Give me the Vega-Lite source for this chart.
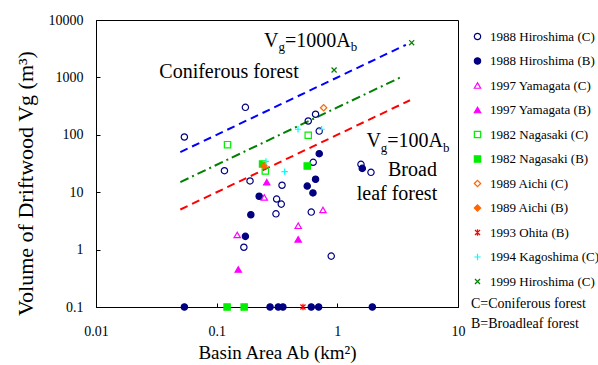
{
  "$schema": "https://vega.github.io/schema/vega-lite/v6.json",
  "width": 362,
  "height": 287,
  "autosize": {"type": "none"},
  "padding": {"left": 96, "top": 20, "right": 140, "bottom": 58},
  "background": "white",
  "config": {
    "font": "Liberation Serif",
    "view": {"stroke": "black", "strokeWidth": 1},
    "axis": {
      "grid": false,
      "domainColor": "black",
      "tickColor": "black",
      "tickSize": -4,
      "labelColor": "black",
      "titleColor": "black",
      "labelFont": "Liberation Serif",
      "titleFont": "Liberation Serif",
      "labelFontSize": 14,
      "titleFontWeight": "normal",
      "labelFlush": false,
      "labelOverlap": false
    },
    "legend": {
      "orient": "none",
      "legendX": 375,
      "legendY": 10,
      "padding": 0,
      "labelFont": "Liberation Serif",
      "labelFontSize": 13,
      "labelColor": "black",
      "labelLimit": 200,
      "labelOffset": 6,
      "symbolSize": 40,
      "symbolStrokeWidth": 1.2,
      "rowPadding": 10.5,
      "titleOrient": "bottom",
      "titleFont": "Liberation Serif",
      "titleFontSize": 14,
      "titleFontWeight": "normal",
      "titleColor": "black",
      "titleLineHeight": 20,
      "titlePadding": 8,
      "titleAnchor": "start",
      "titleLimit": 200
    }
  },
  "datasets": {
    "points": [
      {"series": "1988 Hiroshima (C)", "x": 0.054, "y": 91.6},
      {"series": "1988 Hiroshima (C)", "x": 0.173, "y": 301},
      {"series": "1988 Hiroshima (C)", "x": 0.66, "y": 228},
      {"series": "1988 Hiroshima (C)", "x": 0.574, "y": 174},
      {"series": "1988 Hiroshima (C)", "x": 0.708, "y": 116},
      {"series": "1988 Hiroshima (C)", "x": 0.116, "y": 23.7},
      {"series": "1988 Hiroshima (C)", "x": 0.631, "y": 33.2},
      {"series": "1988 Hiroshima (C)", "x": 1.57, "y": 30.6},
      {"series": "1988 Hiroshima (C)", "x": 1.9, "y": 22.2},
      {"series": "1988 Hiroshima (C)", "x": 0.189, "y": 15.7},
      {"series": "1988 Hiroshima (C)", "x": 0.348, "y": 13.2},
      {"series": "1988 Hiroshima (C)", "x": 0.314, "y": 7.6},
      {"series": "1988 Hiroshima (C)", "x": 0.343, "y": 6.2},
      {"series": "1988 Hiroshima (C)", "x": 0.31, "y": 4.2},
      {"series": "1988 Hiroshima (C)", "x": 0.608, "y": 4.5},
      {"series": "1988 Hiroshima (C)", "x": 0.168, "y": 1.1},
      {"series": "1988 Hiroshima (C)", "x": 0.89, "y": 0.77},
      {"series": "1988 Hiroshima (B)", "x": 0.708, "y": 46.9},
      {"series": "1988 Hiroshima (B)", "x": 1.61, "y": 26},
      {"series": "1988 Hiroshima (B)", "x": 0.563, "y": 12.8},
      {"series": "1988 Hiroshima (B)", "x": 0.66, "y": 16.8},
      {"series": "1988 Hiroshima (B)", "x": 0.628, "y": 9.7},
      {"series": "1988 Hiroshima (B)", "x": 0.225, "y": 8.5},
      {"series": "1988 Hiroshima (B)", "x": 0.192, "y": 4.05},
      {"series": "1988 Hiroshima (B)", "x": 0.173, "y": 1.7},
      {"series": "1988 Hiroshima (B)", "x": 0.054, "y": 0.1},
      {"series": "1988 Hiroshima (B)", "x": 0.277, "y": 0.1},
      {"series": "1988 Hiroshima (B)", "x": 0.324, "y": 0.1},
      {"series": "1988 Hiroshima (B)", "x": 0.354, "y": 0.1},
      {"series": "1988 Hiroshima (B)", "x": 0.608, "y": 0.1},
      {"series": "1988 Hiroshima (B)", "x": 0.7, "y": 0.1},
      {"series": "1988 Hiroshima (B)", "x": 1.95, "y": 0.1},
      {"series": "1997 Yamagata (C)", "x": 0.248, "y": 8.1},
      {"series": "1997 Yamagata (C)", "x": 0.76, "y": 4.9},
      {"series": "1997 Yamagata (C)", "x": 0.474, "y": 2.6},
      {"series": "1997 Yamagata (C)", "x": 0.148, "y": 1.8},
      {"series": "1997 Yamagata (B)", "x": 0.26, "y": 14.9},
      {"series": "1997 Yamagata (B)", "x": 0.474, "y": 1.51},
      {"series": "1997 Yamagata (B)", "x": 0.151, "y": 0.45},
      {"series": "1982 Nagasaki (C)", "x": 0.123, "y": 67.3},
      {"series": "1982 Nagasaki (C)", "x": 0.574, "y": 98},
      {"series": "1982 Nagasaki (C)", "x": 0.253, "y": 23.4},
      {"series": "1982 Nagasaki (B)", "x": 0.24, "y": 31},
      {"series": "1982 Nagasaki (B)", "x": 0.563, "y": 28.6},
      {"series": "1982 Nagasaki (B)", "x": 0.122, "y": 0.1},
      {"series": "1982 Nagasaki (B)", "x": 0.169, "y": 0.1},
      {"series": "1989 Aichi (C)", "x": 0.77, "y": 296},
      {"series": "1989 Aichi (B)", "x": 0.246, "y": 29},
      {"series": "1993 Ohita (B)", "x": 0.519, "y": 0.1},
      {"series": "1994 Kagoshima (C)", "x": 0.472, "y": 125},
      {"series": "1994 Kagoshima (C)", "x": 0.741, "y": 125},
      {"series": "1994 Kagoshima (C)", "x": 0.256, "y": 34.5},
      {"series": "1994 Kagoshima (C)", "x": 0.366, "y": 22.8},
      {"series": "1999 Hiroshima (C)", "x": 4.13, "y": 4025},
      {"series": "1999 Hiroshima (C)", "x": 0.94, "y": 1345}
    ],
    "lines": [
      {"eq": "Vg=1000Ab", "x": 0.05, "y": 50},
      {"eq": "Vg=1000Ab", "x": 3.7, "y": 3700},
      {"eq": "Vg=300Ab", "x": 0.05, "y": 15},
      {"eq": "Vg=300Ab", "x": 3.5, "y": 1050},
      {"eq": "Vg=100Ab", "x": 0.05, "y": 5},
      {"eq": "Vg=100Ab", "x": 4, "y": 400}
    ],
    "labels": [
      {"role": "main", "t": "V", "x": 0.2468, "y": 3426},
      {"role": "sub", "t": "g", "x": 0.3248, "y": 2884},
      {"role": "main", "t": "=1000A", "x": 0.3684, "y": 3426},
      {"role": "sub", "t": "b", "x": 1.2907, "y": 2884},
      {"role": "main", "t": "Coniferous forest", "x": 0.03346, "y": 964.5},
      {"role": "main", "t": "V", "x": 1.741, "y": 60.56},
      {"role": "sub", "t": "g", "x": 2.292, "y": 50.97},
      {"role": "main", "t": "=100A", "x": 2.595, "y": 60.56},
      {"role": "sub", "t": "b", "x": 7.511, "y": 50.97},
      {"role": "main", "t": "Broad", "x": 2.63, "y": 19.15},
      {"role": "main", "t": "leaf forest", "x": 1.447, "y": 7.313}
    ]
  },
  "encoding": {
    "x": {
      "field": "x",
      "type": "quantitative",
      "scale": {"type": "log", "domain": [0.01, 10], "nice": false},
      "axis": {
        "values": [0.01, 0.1, 1, 10],
        "format": "~g",
        "title": "Basin Area Ab (km²)",
        "titleFontSize": 19,
        "titleBaseline": "alphabetic",
        "titleY": 51,
        "labelPadding": 21
      }
    },
    "y": {
      "field": "y",
      "type": "quantitative",
      "scale": {"type": "log", "domain": [0.1, 10000], "nice": false},
      "axis": {
        "values": [0.1, 1, 10, 100, 1000, 10000],
        "format": "~g",
        "title": "Volume of Driftwood Vg (m³)",
        "titleFontSize": 22,
        "titleBaseline": "alphabetic",
        "titleX": -64,
        "titleY": 163,
        "labelPadding": 17
      }
    }
  },
  "layer": [
    {
      "data": {"name": "lines"},
      "transform": [{"filter": "datum.eq == 'Vg=1000Ab'"}],
      "mark": {"type": "line", "color": "#0000FF", "strokeWidth": 2, "strokeDash": [8, 5]},
      "encoding": {}
    },
    {
      "data": {"name": "lines"},
      "transform": [{"filter": "datum.eq == 'Vg=300Ab'"}],
      "mark": {"type": "line", "color": "#008000", "strokeWidth": 2, "strokeDash": [9, 4, 2, 4]},
      "encoding": {}
    },
    {
      "data": {"name": "lines"},
      "transform": [{"filter": "datum.eq == 'Vg=100Ab'"}],
      "mark": {"type": "line", "color": "#FF0000", "strokeWidth": 2, "strokeDash": [8, 5]},
      "encoding": {}
    },
    {
      "data": {"name": "points"},
      "mark": {"type": "point", "size": 40, "strokeWidth": 1.2, "opacity": 1, "fillOpacity": 1},
      "encoding": {
        "stroke": {
          "field": "series",
          "type": "nominal",
          "title": ["C=Coniferous forest", "B=Broadleaf forest"],
          "legend": {"labelFont": "Liberation Serif", "titleFont": "Liberation Serif"},
          "scale": {
            "domain": ["1988 Hiroshima (C)", "1988 Hiroshima (B)", "1997 Yamagata (C)", "1997 Yamagata (B)", "1982 Nagasaki (C)", "1982 Nagasaki (B)", "1989 Aichi (C)", "1989 Aichi (B)", "1993 Ohita (B)", "1994 Kagoshima (C)", "1999 Hiroshima (C)"],
            "range": ["#000080", "#000080", "#FF00FF", "#FF00FF", "#00EE00", "#00EE00", "#FF6600", "#FF6600", "#FF0000", "#00FFFF", "#008000"]
          }
        },
        "fill": {
          "field": "series",
          "type": "nominal",
          "title": ["C=Coniferous forest", "B=Broadleaf forest"],
          "legend": {"labelFont": "Liberation Serif", "titleFont": "Liberation Serif"},
          "scale": {
            "domain": ["1988 Hiroshima (C)", "1988 Hiroshima (B)", "1997 Yamagata (C)", "1997 Yamagata (B)", "1982 Nagasaki (C)", "1982 Nagasaki (B)", "1989 Aichi (C)", "1989 Aichi (B)", "1993 Ohita (B)", "1994 Kagoshima (C)", "1999 Hiroshima (C)"],
            "range": ["transparent", "#000080", "transparent", "#FF00FF", "transparent", "#00EE00", "transparent", "#FF6600", "transparent", "transparent", "transparent"]
          }
        },
        "shape": {
          "field": "series",
          "type": "nominal",
          "title": ["C=Coniferous forest", "B=Broadleaf forest"],
          "legend": {"labelFont": "Liberation Serif", "titleFont": "Liberation Serif"},
          "scale": {
            "domain": ["1988 Hiroshima (C)", "1988 Hiroshima (B)", "1997 Yamagata (C)", "1997 Yamagata (B)", "1982 Nagasaki (C)", "1982 Nagasaki (B)", "1989 Aichi (C)", "1989 Aichi (B)", "1993 Ohita (B)", "1994 Kagoshima (C)", "1999 Hiroshima (C)"],
            "range": ["circle", "circle", "triangle-up", "triangle-up", "square", "square", "diamond", "diamond", "M-0.8,-0.8L0.8,0.8M-0.8,0.8L0.8,-0.8M0,-1L0,1", "M-1,0L1,0M0,-1L0,1", "M-0.8,-0.8L0.8,0.8M-0.8,0.8L0.8,-0.8"]
          }
        }
      }
    },
    {
      "data": {"name": "labels"},
      "transform": [{"filter": "datum.role == 'main'"}],
      "mark": {"type": "text", "align": "left", "baseline": "alphabetic", "font": "Liberation Serif", "fontSize": 20, "color": "black"},
      "encoding": {"text": {"field": "t", "type": "nominal"}}
    },
    {
      "data": {"name": "labels"},
      "transform": [{"filter": "datum.role == 'sub'"}],
      "mark": {"type": "text", "align": "left", "baseline": "alphabetic", "font": "Liberation Serif", "fontSize": 13, "color": "black"},
      "encoding": {"text": {"field": "t", "type": "nominal"}}
    }
  ]
}
